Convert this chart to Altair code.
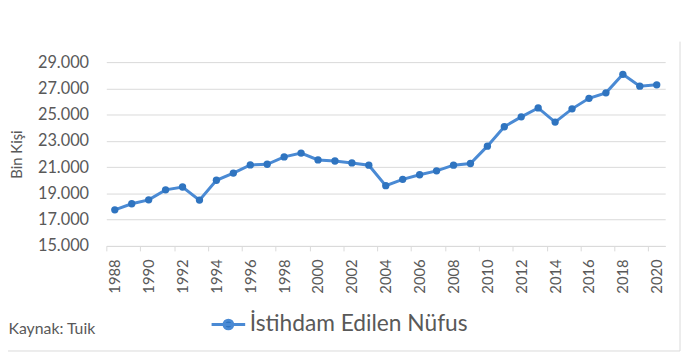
import altair as alt
import pandas as pd

years = list(range(1988, 2021))
values = [17750, 18210, 18510, 19270, 19490, 18490, 20000, 20550, 21170, 21220,
          21780, 22070, 21550, 21470, 21320, 21150, 19590, 20070, 20420, 20720,
          21150, 21280, 22600, 24080, 24830, 25510, 24430, 25440, 26240, 26660,
          28070, 27170, 27270]
series_name = "İstihdam Edilen Nüfus"
y_ticks = [15000, 17000, 19000, 21000, 23000, 25000, 27000, 29000]
x_tick_years = years[::2]
source_note = ["Kaynak: Tuik"]

df = pd.DataFrame({"year": years, "value": values, "series": series_name})

LINE = "#4a8ad4"
DOT = "#2f74c0"
TXT = "#595959"
GRID = "#d9d9d9"

x_enc = alt.X(
    "year:Q",
    scale=alt.Scale(domain=[years[0] - 0.5, years[-1] + 0.5], nice=False, zero=False),
    axis=alt.Axis(
        values=[y - 0.5 for y in x_tick_years], tickCount=60,
        labelExpr="format(datum.value + 0.5, 'd')",
        labelAngle=-90, labelAlign="right", labelBaseline="middle",
        labelOffset=8.57, labelPadding=8, tickSize=5, labelOverlap=False,
        tickColor=GRID, domainColor=GRID, grid=False,
        labelFontSize=15, labelColor=TXT, title=None,
    ),
)
y_enc = alt.Y(
    "value:Q",
    scale=alt.Scale(domain=[15000, 29000], nice=False, zero=False),
    axis=alt.Axis(
        values=y_ticks, tickCount=30,
        labelExpr="replace(format(datum.value, ','), ',', '.')",
        ticks=False, tickSize=0, domain=False, labelPadding=18,
        labelOverlap=False,
        gridColor=GRID, labelFontSize=16.5, labelColor=TXT,
        title="Bin Kişi", titleFontSize=15, titleFontWeight="normal",
        titleColor=TXT, titleAngle=-90, titleX=-90.5, titleY=93,
        titleAlign="center", titleBaseline="middle",
    ),
)

sym_path = ("M-1,0L1,0M0.26,0A0.26,0.26,0,1,1,-0.26,0"
            "A0.26,0.26,0,1,1,0.26,0Z")

line = alt.Chart(df).mark_line(strokeWidth=3).encode(
    x=x_enc, y=y_enc,
    color=alt.Color("series:N", scale=alt.Scale(range=[LINE]),
                    legend=alt.Legend(
                        title=None, orient="none", legendX=105, legendY=247,
                        symbolType=sym_path, symbolSize=1156,
                        symbolStrokeWidth=3, symbolFillColor=DOT,
                        symbolStrokeColor=LINE, labelFontSize=23,
                        labelColor=TXT, labelOffset=3, padding=0,
                        labelLimit=400,
                    )),
)
points = alt.Chart(df).mark_point(filled=True, size=55, color=DOT, opacity=1).encode(
    x="year:Q", y="value:Q"
)

note = alt.Chart(pd.DataFrame({"t": source_note})).mark_text(
    align="left", baseline="alphabetic", fontSize=16, color=TXT
).encode(text="t:N", x=alt.value(-99), y=alt.value(275.3))

border_r = alt.Chart(pd.DataFrame({"t": source_note})).mark_rule(color=GRID, strokeWidth=1).encode(
    x=alt.value(580.5), y=alt.value(-20.7), y2=alt.value(292.3)
)
border_b = alt.Chart(pd.DataFrame({"t": source_note})).mark_rule(color=GRID, strokeWidth=1).encode(
    x=alt.value(-107.5), x2=alt.value(580.5), y=alt.value(292.3)
)

chart = alt.layer(line, points, note, border_r, border_b).properties(
    width=565.5, height=186,
    autosize="none",
    padding={"left": 99.5, "top": 52.7, "right": 17, "bottom": 109},
    background="white",
).configure(font="Lato").configure_view(stroke=None)

chart.save("out.html", embed_options={"renderer": "svg", "actions": False})
